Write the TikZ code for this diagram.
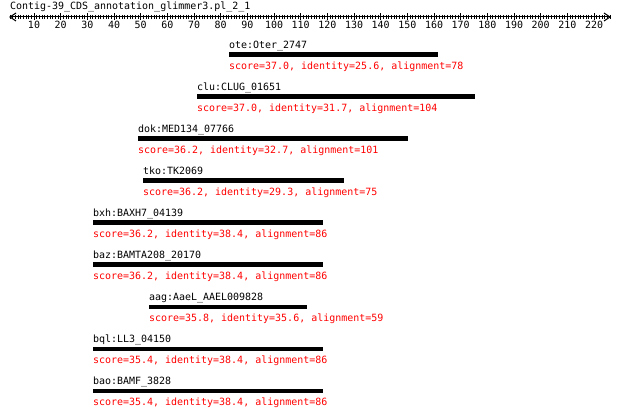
\documentclass[tikz,border=0pt]{standalone}
\usepackage{fontspec}
\newfontfamily\hitmono{DejaVu Sans Mono}
\begin{document}
\begin{tikzpicture}[x=1pt,y=-1pt,
  txt/.style={inner sep=0pt, font=\hitmono\fontsize{9.97pt}{12pt}\selectfont},
  lbl/.style={txt, anchor=base west, text=black},
  stat/.style={txt, anchor=base west, text=red},
  rulernum/.style={txt, anchor=base, text=black},
  hitbar/.style={fill=black, draw=none, inner sep=0pt, outer sep=0pt, anchor=north west, minimum height=4.5pt},
  rulerline/.style={draw=black, line width=1pt},
  minortick/.style={draw=black, line width=1pt},
  majortick/.style={draw=black, line width=1pt}]
\useasboundingbox (0,0) rectangle (620,419);
\fill[white] (0,0) rectangle (620,419);
\node[lbl] (title) at (10,9.5) {Contig-39\_CDS\_annotation\_glimmer3.pl\_2\_1};
% ruler
\coordinate (rl) at (10,17);
\coordinate (rr) at (610,17);
\draw[rulerline] (rl) -- (rr);
\draw[rulerline] ([xshift=6pt,yshift=4pt]rl) -- (rl) -- ([xshift=6pt,yshift=-4pt]rl);
\draw[rulerline] ([xshift=-6pt,yshift=4pt]rr) -- (rr) -- ([xshift=-6pt,yshift=-4pt]rr);
\foreach \u in {1,...,226} {
  \draw[minortick] ({7.3333+2.6667*\u},15) -- ++(0,4);
}
\foreach \u in {10,20,...,220} {
  \draw[majortick] ({7.3333+2.6667*\u},13.5) -- ++(0,7);
  \node[rulernum] (n\u) at ({7.3333+2.6667*\u},28.5) {\u};
}
% hits
\foreach \k/\xs/\xe/\name/\sc/\id/\al in {
  0/229/438/ote:Oter\_2747/37.0/25.6/78,
  1/197/475/clu:CLUG\_01651/37.0/31.7/104,
  2/138/408/dok:MED134\_07766/36.2/32.7/101,
  3/143/344/tko:TK2069/36.2/29.3/75,
  4/93/323/bxh:BAXH7\_04139/36.2/38.4/86,
  5/93/323/baz:BAMTA208\_20170/36.2/38.4/86,
  6/149/307/aag:AaeL\_AAEL009828/35.8/35.6/59,
  7/93/323/bql:LL3\_04150/35.4/38.4/86,
  8/93/323/bao:BAMF\_3828/35.4/38.4/86} {
  \node[lbl] (name\k) at (\xs,{48.5+42*\k}) {\name};
  \node[hitbar, minimum width={(\xe-\xs)*1pt}] (bar\k) at (\xs,{52.5+42*\k}) {};
  \node[stat] (stat\k) at (\xs,{69.5+42*\k}) {score=\sc, identity=\id, alignment=\al};
}
\end{tikzpicture}
\end{document}
